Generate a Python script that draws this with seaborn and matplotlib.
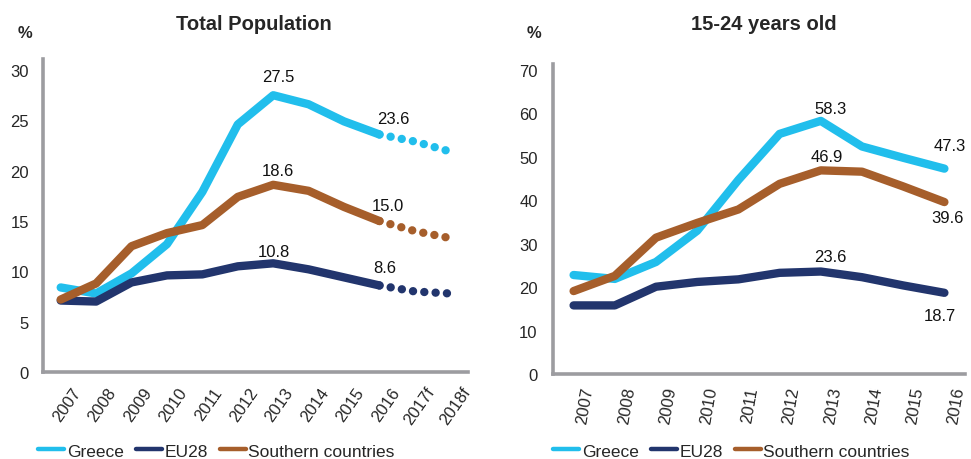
import numpy as np
import pandas as pd
import seaborn as sns
import matplotlib
matplotlib.use("Agg")
import matplotlib.pyplot as plt
from matplotlib.lines import Line2D
from matplotlib.transforms import ScaledTranslation

# ---------------- data ----------------
years_total = ["2007", "2008", "2009", "2010", "2011", "2012", "2013",
               "2014", "2015", "2016", "2017f", "2018f"]
greece_total = [8.4, 7.8, 9.8, 12.7, 17.9, 24.6, 27.5, 26.6, 24.9, 23.6, 22.9, 21.9]
eu28_total = [7.1, 7.0, 8.9, 9.6, 9.7, 10.5, 10.8, 10.2, 9.4, 8.6, 8.0, 7.8]
south_total = [7.2, 8.8, 12.5, 13.8, 14.6, 17.4, 18.6, 18.0, 16.4, 15.0, 14.0, 13.3]
forecast_start = 9  # index of 2016, last actual value

years_youth = ["2007", "2008", "2009", "2010", "2011", "2012", "2013",
               "2014", "2015", "2016"]
greece_youth = [22.8, 21.9, 25.8, 33.0, 44.7, 55.3, 58.3, 52.4, 49.8, 47.3]
eu28_youth = [15.8, 15.8, 20.1, 21.2, 21.8, 23.3, 23.6, 22.3, 20.4, 18.7]
south_youth = [19.1, 22.6, 31.4, 34.8, 37.9, 43.8, 46.9, 46.6, 43.2, 39.6]

series_names = ["Greece", "EU28", "Southern countries"]
colors = {"Greece": "#21BEEC", "EU28": "#22356D", "Southern countries": "#A65E2B"}

labels_total = [("Greece", 6, "27.5", 3.6, 13.7), ("Greece", 9, "23.6", 10, 11.5),
                ("Southern countries", 6, "18.6", 3.6, 10), ("Southern countries", 9, "15.0", 6, 11.5),
                ("EU28", 6, "10.8", 0.7, 8.6), ("EU28", 9, "8.6", 3.6, 13)]
labels_youth = [("Greece", 6, "58.3", 7, 8.6), ("Greece", 9, "47.3", 3.6, 17),
                ("Southern countries", 6, "46.9", 4.3, 10), ("Southern countries", 9, "39.6", 2, -11),
                ("EU28", 6, "23.6", 7, 10.8), ("EU28", 9, "18.7", -3, -16)]

# ---------------- style ----------------
sns.set_theme(style="white")
plt.rcParams["font.family"] = ["Liberation Sans", "DejaVu Sans"]

fig = plt.figure(figsize=(9.71, 4.60), dpi=100)
ax1 = fig.add_axes([43 / 971, 87 / 460, 425 / 971, 313 / 460])
ax2 = fig.add_axes([553 / 971, 85 / 460, 412 / 971, 310 / 460])

LW = 6.0
SPINE = "#9C9CA0"


def long_df(vals, idx):
    rows = []
    for name, v in zip(series_names, vals):
        for i in idx:
            rows.append({"pos": i, "value": v[i], "series": name})
    return pd.DataFrame(rows)


def draw(ax, years, vals, ymax, ytick_step, fc_start, labels, rot, xoff_px, tickpad, ypad):
    n = len(years)
    solid_end = fc_start if fc_start is not None else n - 1
    df_solid = long_df(vals, range(0, solid_end + 1))
    sns.lineplot(data=df_solid, x="pos", y="value", hue="series", palette=colors,
                 hue_order=series_names, linewidth=LW, solid_capstyle="round",
                 solid_joinstyle="round", legend=False, ax=ax, zorder=3)
    if fc_start is not None:
        df_fc = long_df(vals, range(fc_start, n))
        sns.lineplot(data=df_fc, x="pos", y="value", hue="series", palette=colors,
                     hue_order=series_names, linewidth=LW, linestyle=(0, (0.01, 1.35)),
                     dash_capstyle="round", legend=False, ax=ax, zorder=3)
    ax.set_xlim(-0.5, n - 0.5)
    ax.set_ylim(0, ymax)
    ax.set_yticks(np.arange(0, ymax, ytick_step))
    ax.set_xticks(range(n))
    ax.tick_params(axis="x", length=0, pad=tickpad)
    ax.tick_params(axis="y", length=0, pad=ypad, labelsize=12)
    ax.set_xticklabels(years, rotation=rot, ha="right", va="center",
                       rotation_mode="anchor", fontsize=12)
    for lab in ax.get_xticklabels():
        lab.set_transform(lab.get_transform() + ScaledTranslation(xoff_px / 100, 0, fig.dpi_scale_trans))
    ax.set_xlabel("")
    ax.set_ylabel("")
    for s in ["top", "right"]:
        ax.spines[s].set_visible(False)
    for s in ["left", "bottom"]:
        ax.spines[s].set_color(SPINE)
        ax.spines[s].set_linewidth(2.6)
    ax.grid(False)
    lookup = dict(zip(series_names, vals))
    for name, i, txt, dx, dy in labels:
        ax.annotate(txt, xy=(i, lookup[name][i]), xytext=(dx, dy), textcoords="offset points",
                    ha="center", va="center", fontsize=12, color="#111111", zorder=5)


draw(ax1, years_total, [greece_total, eu28_total, south_total], 31.1, 5, forecast_start,
     labels_total, 55, 17, 12, 10)
draw(ax2, years_youth, [greece_youth, eu28_youth, south_youth], 71.4, 10, None,
     labels_youth, 80, 15, 9, 11)

# titles and unit labels
fig.text(254 / 971, 1 - 24 / 460, "Total Population", ha="center", va="center",
         fontsize=14.5, fontweight="bold")
fig.text(764 / 971, 1 - 24 / 460, "15-24 years old", ha="center", va="center",
         fontsize=14.5, fontweight="bold")
fig.text(25 / 971, 1 - 33 / 460, "%", ha="center", va="center", fontsize=12, fontweight="bold")
fig.text(534 / 971, 1 - 33 / 460, "%", ha="center", va="center", fontsize=12, fontweight="bold")

# legends
for x0 in (38 / 971, 553 / 971):
    handles = [Line2D([0], [0], color=colors[n], lw=3.2, solid_capstyle="round") for n in series_names]
    fig.legend(handles, series_names, loc="center left", bbox_to_anchor=(x0, 1 - 452 / 460),
               bbox_transform=fig.transFigure, ncol=3, frameon=False, fontsize=12.5,
               handlelength=1.5, handletextpad=0.15, columnspacing=0.7, borderpad=0,
               borderaxespad=0)

fig.savefig("out.png", dpi=100)
